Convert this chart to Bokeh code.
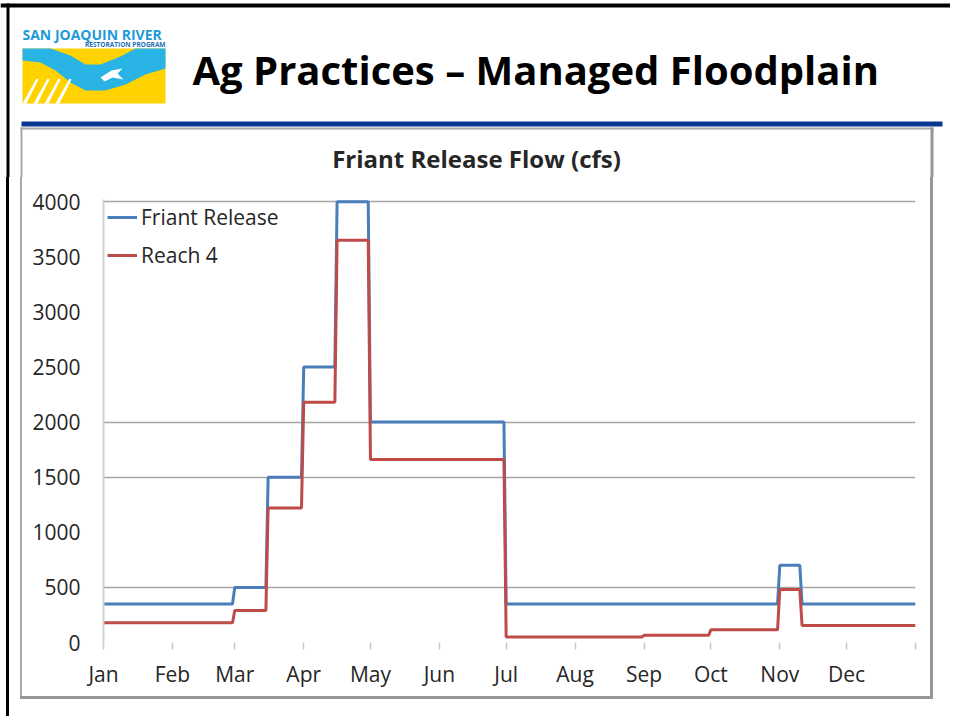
from bokeh.plotting import figure
from bokeh.layouts import column, row
from bokeh.models import Range1d, FixedTicker, Legend, LegendItem, Div
from bokeh.core.properties import value
from bokeh.embed import file_html
from bokeh.resources import INLINE

# ---------------- data ----------------
month_labels = ["Jan", "Feb", "Mar", "Apr", "May", "Jun",
                "Jul", "Aug", "Sep", "Oct", "Nov", "Dec"]
month_start_day = [0, 31, 59, 90, 120, 151, 181, 212, 243, 273, 304, 334, 365]
flow_ticks = [0, 500, 1000, 1500, 2000, 2500, 3000, 3500, 4000]
visible_grid = [500, 1500, 2000, 4000]

# day of year on which each flow level starts, and the level (cfs)
friant_start_day = [0, 59, 74, 90, 105, 120, 181, 304, 314]
friant_cfs = [350, 500, 1500, 2500, 4000, 2000, 350, 700, 350]

reach4_start_day = [0, 59, 74, 90, 105, 120, 181, 243, 273, 304, 314]
reach4_cfs = [180, 290, 1220, 2180, 3650, 1660, 50, 65, 115, 480, 155]

year_end_day = 365

slide_title = "Ag Practices \u2013 Managed Floodplain"
chart_title = "Friant Release Flow (cfs)"
series_names = ["Friant Release", "Reach 4"]
logo_lines = ["SAN JOAQUIN RIVER", "RESTORATION PROGRAM"]


def daily_steps(starts, vals, end):
    xs, ys = [], []
    for i, (s, v) in enumerate(zip(starts, vals)):
        e = starts[i + 1] - 1 if i + 1 < len(starts) else end
        xs += [s, e]
        ys += [v, v]
    return xs, ys


# ---------------- page geometry (pixels) ----------------
PAGE_W = 950
HEAD_H = 177                # header band (incl. chart title): y 0..177
MID_H = 519                 # chart band:  y 177..696
BOT_H = 20                  # bottom band: y 696..716
LEFT_W = 23                 # left strip:  x 0..23
CHART_W = 907               # chart fig:   x 23..930
RIGHT_W = PAGE_W - LEFT_W - CHART_W
FL, FR, FT, FB = 103, 915, 199, 642   # plot frame in page coordinates

FONT = "Open Sans"
TXT = "#262626"
BLUE = "#4A7EBB"
RED = "#BE4B48"
BOX = "#a8a8a8"
BOX_SHADOW = "#969696"
BLACK = "#000000"


def deco_fig(w, h):
    f = figure(width=w, height=h, x_range=Range1d(0, w), y_range=Range1d(h, 0),
               output_backend="svg", toolbar_location=None, min_border=0,
               x_axis_type=None, y_axis_type=None)
    f.outline_line_color = None
    f.background_fill_color = "white"
    f.border_fill_color = "white"
    return f


def rect_px(f, l, t, r, b, color):
    f.quad(left=[l], right=[r], top=[t], bottom=[b], fill_color=color, line_color=None)


def patch_px(f, pts, color):
    f.patch([a for a, _ in pts], [b for _, b in pts], fill_color=color, line_color=None)


def bar(color, x, y, w, h):
    return f"linear-gradient({color},{color}) {x} {y} / {w} {h} no-repeat"


# ---------------- header ----------------
head = deco_fig(PAGE_W, HEAD_H)
rect_px(head, 0, 3, PAGE_W, 7, BLACK)          # slide frame top
rect_px(head, 6, 3, 9, HEAD_H, BLACK)          # slide frame left
rect_px(head, 21, 121, 942, 126, "#0a3694")    # header rule
rect_px(head, 20, 127, 933, 129, BOX)          # chart box top
rect_px(head, 20, 127, 22, HEAD_H, BOX)        # chart box left
rect_px(head, 930, 127, 933, HEAD_H, BOX_SHADOW)

# logo
rect_px(head, 22, 48, 165, 103, "#FFD200")
patch_px(head, [(22, 48), (50, 48), (70, 55), (85, 64), (100, 64), (120, 56),
                (135, 48), (165, 48), (165, 68), (145, 74), (125, 84), (105, 90),
                (85, 90), (70, 82), (55, 70), (40, 62), (22, 60)], "#2AB4E6")
patch_px(head, [(100, 77), (111, 70), (122, 68), (117, 73), (123, 79),
                (112, 77), (104, 81)], "white")
for x0 in (26, 37, 48, 59):
    patch_px(head, [(x0 - 4, 103), (x0 + 10, 78), (x0 + 12, 79), (x0, 103)], "white")
head.text(x=[22], y=[34], text=[logo_lines[0]], text_font=value(FONT),
          text_font_style="bold", text_font_size=value("14px"),
          text_color="#1E9AD6", text_baseline="alphabetic", text_align="left")
head.text(x=[165], y=[44], text=[logo_lines[1]], text_font=value(FONT),
          text_font_style="bold", text_font_size=value("6.5px"),
          text_color="#1E6FB8", text_baseline="alphabetic", text_align="right")

head.text(x=[192], y=[69], text=[slide_title], text_font=value(FONT),
          text_font_style="bold", text_font_size=value("40px"),
          text_color="black", text_baseline="alphabetic", text_align="left")

# chart title (inside the chart box, above the plot area)
head.text(x=[476], y=[158], text=[chart_title], text_font=value(FONT),
          text_font_style="bold", text_font_size=value("24px"),
          text_color=TXT, text_baseline="alphabetic", text_align="center")

# ---------------- side and bottom strips (plain boxes) ----------------
left = Div(text="", width=LEFT_W, height=MID_H, margin=0,
           styles={"background": ", ".join([bar(BLACK, "6px", "0px", "3px", "100%"),
                                             bar(BOX, "20px", "0px", "2px", "100%")])
                   + ", #ffffff"})
right = Div(text="", width=RIGHT_W, height=MID_H, margin=0,
            styles={"background": bar(BOX_SHADOW, "0px", "0px", "3px", "100%")
                    + ", #ffffff"})
bottom = Div(text="", width=PAGE_W, height=BOT_H, margin=0,
             styles={"background": ", ".join([bar(BOX_SHADOW, "20px", "0px", "913px", "3px"),
                                               bar(BLACK, "6px", "0px", "3px", "100%")])
                     + ", #ffffff"})

# ---------------- chart ----------------
x0 = LEFT_W
y0 = HEAD_H
p = figure(width=CHART_W, height=MID_H,
           x_range=Range1d(0, year_end_day), y_range=Range1d(0, 4020),
           output_backend="svg", toolbar_location=None,
           min_border_left=FL - x0, min_border_right=x0 + CHART_W - FR,
           min_border_top=FT - y0, min_border_bottom=y0 + MID_H - FB)
p.outline_line_color = None
p.background_fill_color = "white"
p.border_fill_color = "white"

p.xaxis.ticker = FixedTicker(ticks=month_start_day)
p.xaxis.major_label_overrides = {d: (month_labels[i] if i < 12 else "")
                                 for i, d in enumerate(month_start_day)}
p.xaxis.axis_line_color = None
p.xaxis.major_tick_line_color = "#c8c8c8"
p.xaxis.major_tick_line_width = 1.5
p.xaxis.major_tick_in = 0
p.xaxis.major_tick_out = 7
p.xaxis.minor_tick_line_color = None
p.xaxis.major_label_standoff = 10
p.xaxis.major_label_text_font = FONT
p.xaxis.major_label_text_font_size = "21px"
p.xaxis.major_label_text_color = TXT

p.yaxis.ticker = FixedTicker(ticks=flow_ticks)
p.yaxis.axis_line_color = "#d4d4d4"
p.yaxis.axis_line_width = 2
p.yaxis.major_tick_line_color = None
p.yaxis.major_tick_in = 0
p.yaxis.major_tick_out = 0
p.yaxis.minor_tick_line_color = None
p.yaxis.major_label_standoff = 23
p.yaxis.major_label_text_font = FONT
p.yaxis.major_label_text_font_size = "21px"
p.yaxis.major_label_text_color = TXT

p.xgrid.grid_line_color = None
p.ygrid.ticker = FixedTicker(ticks=visible_grid)
p.ygrid.grid_line_color = "#a6a6a6"
p.ygrid.grid_line_width = 1.5

fx, fy = daily_steps(friant_start_day, friant_cfs, year_end_day)
rx, ry = daily_steps(reach4_start_day, reach4_cfs, year_end_day)
r_f = p.line(fx, fy, line_color=BLUE, line_width=3)
r_r = p.line(rx, ry, line_color=RED, line_width=3)

legend = Legend(items=[LegendItem(label=series_names[0], renderers=[r_f]),
                       LegendItem(label=series_names[1], renderers=[r_r])],
                location="top_left", margin=4, padding=0, spacing=10,
                glyph_width=30, glyph_height=24, label_height=24,
                label_standoff=4, label_text_font=FONT,
                label_text_font_size="21px", label_text_color=TXT,
                background_fill_alpha=0, border_line_color=None)
p.add_layout(legend)

layout = column(head, row(left, p, right), bottom)
open("out.html", "w").write(file_html(layout, INLINE))
